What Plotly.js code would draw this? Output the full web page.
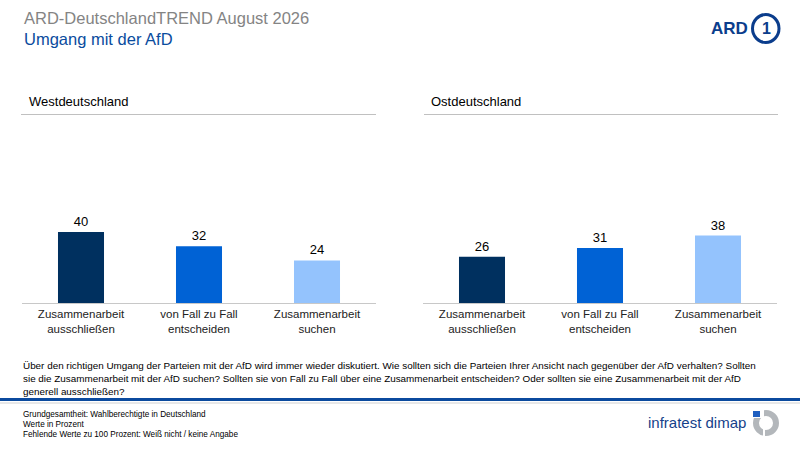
<!DOCTYPE html>
<html>
<head>
<meta charset="utf-8">
<script src="https://cdn.plot.ly/plotly-3.0.1.min.js"></script>
<style>
html,body{margin:0;padding:0;background:#fff;}
#chart{width:800px;height:450px;}
</style>
</head>
<body>
<div id="chart"></div>
<script>
// ---- data ----
var categories = ["Zusammenarbeit<br>ausschließen", "von Fall zu Fall<br>entscheiden", "Zusammenarbeit<br>suchen"];
var westValues = [40, 32, 24];
var ostValues = [26, 31, 38];
var panelTitles = ["Westdeutschland", "Ostdeutschland"];
var barColors = ["#00305f", "#0062d5", "#94c3fd"];

var mainTitle = "ARD-DeutschlandTREND August 2026";
var subTitle = "Umgang mit der AfD";
var questionLines = [
  "Über den richtigen Umgang der Parteien mit der AfD wird immer wieder diskutiert. Wie sollten sich die Parteien Ihrer Ansicht nach gegenüber der AfD verhalten? Sollten",
  "sie die Zusammenarbeit mit der AfD suchen? Sollten sie von Fall zu Fall über eine Zusammenarbeit entscheiden? Oder sollten sie eine Zusammenarbeit mit der AfD",
  "generell ausschließen?"
];
var footerLines = [
  "Grundgesamtheit: Wahlberechtigte in Deutschland",
  "Werte in Prozent",
  "Fehlende Werte zu 100 Prozent: Weiß nicht / keine Angabe"
];

// ---- helpers (pixel -> paper) ----
var W = 800, H = 450;
function px(x){ return x / W; }
function py(y){ return 1 - y / H; }

var FONT = "Liberation Sans, Arial, sans-serif";

function barTrace(vals, xa, ya){
  return {
    type: "bar",
    x: categories,
    y: vals,
    xaxis: xa, yaxis: ya,
    width: 0.39,
    marker: {color: barColors, line: {width: 0}},
    text: vals.map(String),
    textposition: "outside",
    cliponaxis: false,
    textfont: {family: FONT, size: 13, color: "#000"},
    hoverinfo: "skip"
  };
}

var data = [barTrace(westValues, "x", "y"), barTrace(ostValues, "x2", "y2")];

var ydom = [py(303), py(214.25)];
function xax(dom){
  return {
    domain: dom, type: "category", showgrid: false, zeroline: false,
    showline: true, linecolor: "#c8c8c8", linewidth: 1,
    ticks: "", tickfont: {family: FONT, size: 11.5, color: "#222"},
    fixedrange: true, automargin: false
  };
}
function yax(anchor){
  return {
    domain: ydom, range: [0, 50], visible: false, showgrid: false, zeroline: false,
    anchor: anchor, fixedrange: true
  };
}

var annotations = [];
function txt(x, y, s, size, color, anchor, weight){
  annotations.push({
    xref: "paper", yref: "paper", x: px(x), y: py(y), text: s, showarrow: false,
    xanchor: anchor || "left", yanchor: "middle",
    font: {family: FONT, size: size, color: color, weight: weight || "normal"}
  });
}
txt(22, 18, mainTitle, 16.5, "#848484");
txt(22, 39, subTitle, 16.5, "#0a4c9e");
txt(27, 101, panelTitles[0], 13, "#000");
txt(429, 101, panelTitles[1], 13, "#000");
questionLines.forEach(function(l, i){ txt(21, 365 + i * 13, l, 9.9, "#000"); });
footerLines.forEach(function(l, i){ txt(21, 414 + i * 10.2, l, 8.2, "#000"); });
// logos text
txt(750, 29, "ARD", 17, "#0b3d8c", "right", "bold");
txt(766, 29, "1", 16, "#0b3d8c", "center", "bold");
txt(748, 422, "infratest dimap", 15, "#153f8a", "right");

var shapes = [
  // panel header lines
  {type: "line", xref: "paper", yref: "paper", x0: px(21), x1: px(376), y0: py(114.5), y1: py(114.5), line: {color: "#c0c0c0", width: 1}},
  {type: "line", xref: "paper", yref: "paper", x0: px(424), x1: px(778), y0: py(114.5), y1: py(114.5), line: {color: "#c0c0c0", width: 1}},
  // bottom rule
  {type: "line", xref: "paper", yref: "paper", x0: 0, x1: 1, y0: py(399.5), y1: py(399.5), line: {color: "#0b4a9e", width: 3}},
  {type: "line", xref: "paper", yref: "paper", x0: 0, x1: 1, y0: py(403), y1: py(403), line: {color: "#d0d0d0", width: 1}},
  // ARD circle
  {type: "circle", xref: "paper", yref: "paper", x0: px(752.5), x1: px(779), y0: py(14.5), y1: py(42.5), line: {color: "#0b3d8c", width: 3}},
  // infratest ring
  {type: "circle", xref: "paper", yref: "paper", x0: px(756), x1: px(776), y0: py(413), y1: py(433), line: {color: "#b3b7bb", width: 6}},
  {type: "rect", xref: "paper", yref: "paper", x0: px(751), x1: px(764), y0: py(409), y1: py(418), fillcolor: "#fff", line: {width: 0}},
  {type: "rect", xref: "paper", yref: "paper", x0: px(763), x1: px(765), y0: py(428), y1: py(437), fillcolor: "#fff", line: {width: 0}},
  {type: "rect", xref: "paper", yref: "paper", x0: px(753), x1: px(760), y0: py(411), y1: py(417), fillcolor: "#1f5fc0", line: {width: 0}}
];

var layout = {
  width: W, height: H,
  margin: {l: 0, r: 0, t: 0, b: 0},
  paper_bgcolor: "#fff", plot_bgcolor: "#fff",
  showlegend: false, bargap: 0.6,
  xaxis: xax([px(22), px(376)]),
  yaxis: yax("x"),
  xaxis2: Object.assign(xax([px(423), px(777)]), {anchor: "y2"}),
  yaxis2: yax("x2"),
  annotations: annotations,
  shapes: shapes,
  font: {family: FONT}
};

Plotly.newPlot("chart", data, layout, {displayModeBar: false, staticPlot: true});
</script>
</body>
</html>
